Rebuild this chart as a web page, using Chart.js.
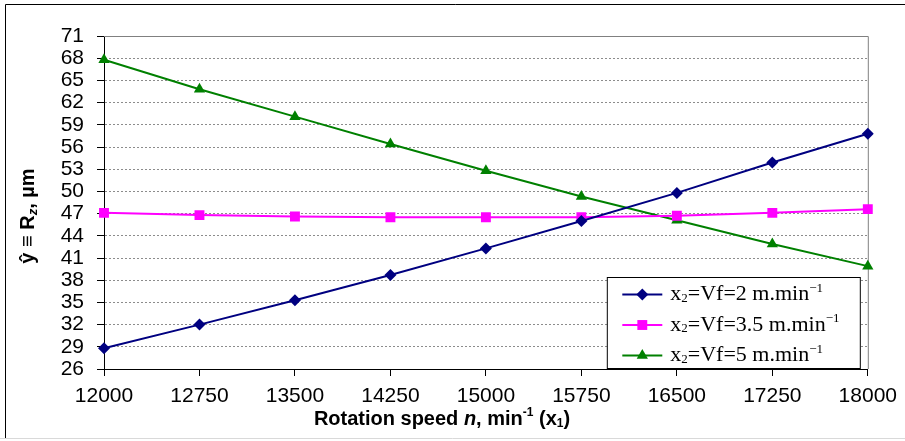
<!DOCTYPE html>
<html>
<head>
<meta charset="utf-8">
<script src="https://cdn.jsdelivr.net/npm/chart.js@4/dist/chart.umd.min.js"></script>
<style>
html,body{margin:0;padding:0;background:#fff;}
</style>
</head>
<body>
<canvas id="myChart" width="905" height="441"></canvas>
<script>
// rotation speed n, min-1 (x1)
const speeds = ['12000','12750','13500','14250','15000','15750','16500','17250','18000'];
// feed rates for the three series (x2 = Vf)
const feeds = ['2','3.5','5'];
// Rz values
const rzVf2   = [28.8, 32.0, 35.3, 38.7, 42.3, 46.0, 49.8, 53.9, 57.8];
const rzVf35  = [47.1, 46.8, 46.6, 46.5, 46.5, 46.5, 46.7, 47.1, 47.6];
const rzVf5   = [67.8, 63.8, 60.1, 56.4, 52.8, 49.3, 46.1, 42.9, 39.9];
const colors  = ['#000080','#FF00FF','#008000'];
const markers = ['rectRot','rect','triangle'];
const radii   = [6, 7, 6.5];

const sans = '"Liberation Sans", Arial, sans-serif';
const serif = '"Liberation Serif", "Times New Roman", serif';

function richText(ctx, parts, x, y) {
	// parts: [text, font, dy]
	let w = 0;
	parts.forEach(function(p){ ctx.font = p[1]; w += ctx.measureText(p[0]).width; });
	let cx = x - w / 2;
	ctx.textAlign = 'left';
	ctx.textBaseline = 'middle';
	parts.forEach(function(p){
		ctx.font = p[1];
		ctx.fillText(p[0], cx, y + (p[2] || 0));
		cx += ctx.measureText(p[0]).width;
	});
}

function marker(ctx, style, r, x, y) {
	ctx.beginPath();
	if (style == 'rectRot') {
		ctx.moveTo(x, y - r); ctx.lineTo(x + r, y); ctx.lineTo(x, y + r); ctx.lineTo(x - r, y);
	} else if (style == 'rect') {
		let s = r * Math.SQRT1_2;
		ctx.rect(x - s, y - s, 2 * s, 2 * s);
	} else {
		let a = 0;
		ctx.moveTo(x + Math.sin(a) * r, y - Math.cos(a) * r);
		a += 2 * Math.PI / 3;
		ctx.lineTo(x + Math.sin(a) * r, y - Math.cos(a) * r);
		a += 2 * Math.PI / 3;
		ctx.lineTo(x + Math.sin(a) * r, y - Math.cos(a) * r);
	}
	ctx.closePath();
	ctx.fill();
}

const framePlugin = {
	id: 'frame',
	beforeDraw: function(chart) {
		const ctx = chart.ctx;
		ctx.save();
		ctx.fillStyle = '#fff';
		ctx.fillRect(0, 0, chart.width, chart.height);
		ctx.strokeStyle = '#000';
		ctx.lineWidth = 1;
		ctx.beginPath();
		ctx.moveTo(5.5, 438);
		ctx.lineTo(5.5, 4.5);
		ctx.lineTo(chart.width, 4.5);
		ctx.stroke();
		ctx.strokeStyle = '#d9d9d9';
		ctx.beginPath();
		ctx.moveTo(0, 438.5);
		ctx.lineTo(chart.width, 438.5);
		ctx.stroke();
		ctx.restore();
	},
	beforeDatasetsDraw: function(chart) {
		const ctx = chart.ctx, a = chart.chartArea;
		ctx.save();
		ctx.strokeStyle = '#808080';
		ctx.lineWidth = 1;
		ctx.beginPath();
		ctx.moveTo(a.left, a.top + 0.5);
		ctx.lineTo(a.right + 0.5, a.top + 0.5);
		ctx.lineTo(a.right + 0.5, a.bottom);
		ctx.stroke();
		ctx.restore();
	},
	afterDatasetsDraw: function(chart) {
		const ctx = chart.ctx, a = chart.chartArea;
		ctx.save();
		ctx.fillStyle = '#000';
		// axis titles
		richText(ctx, [
			['Rotation speed ', 'bold 20px ' + sans],
			['n', 'italic bold 20px ' + sans],
			[', min', 'bold 20px ' + sans],
			['-1', 'bold 12px ' + sans, -6],
			[' (x', 'bold 20px ' + sans],
			['1', 'bold 12px ' + sans, 5],
			[')', 'bold 20px ' + sans]
		], 442, 419);
		ctx.save();
		ctx.translate(28, 216);
		ctx.rotate(-Math.PI / 2);
		richText(ctx, [
			['\u0177 \u2261 R', 'bold 20px ' + sans],
			['z', 'italic bold 13px ' + sans, 5],
			[', \u00b5m', 'bold 20px ' + sans]
		], 0, 0);
		ctx.restore();

		// legend box
		const bx = a.right - 260.5, by = a.bottom - 91.5, bw = 253, bh = 91;
		ctx.fillStyle = '#fff';
		ctx.fillRect(bx, by, bw, bh);
		ctx.strokeStyle = '#000';
		ctx.lineWidth = 1;
		ctx.strokeRect(bx, by, bw, bh);
		chart.data.datasets.forEach(function(ds, i) {
			const y = by + 17 + i * 30.5;
			ctx.strokeStyle = ds.borderColor;
			ctx.lineWidth = 2;
			ctx.beginPath();
			ctx.moveTo(bx + 15, y);
			ctx.lineTo(bx + 55, y);
			ctx.stroke();
			ctx.fillStyle = ds.borderColor;
			marker(ctx, ds.pointStyle, ds.pointRadius, bx + 35, y);
			ctx.fillStyle = '#000';
			const parts = [
				['x', '22px ' + serif],
				['2', '13px ' + serif, 4],
				['=Vf=' + feeds[i] + ' m.min', '22px ' + serif],
				['\u22121', '13px ' + serif, -6]
			];
			let w = 0;
			parts.forEach(function(p){ ctx.font = p[1]; w += ctx.measureText(p[0]).width; });
			richText(ctx, parts, bx + 63 + w / 2, y);
		});
		ctx.restore();
	}
};

const series = [rzVf2, rzVf35, rzVf5];

let myChart = document.getElementById('myChart').getContext('2d');
let chart = new Chart(myChart, {
	type: 'line',
	data: {
		labels: speeds,
		datasets: series.map(function(vals, i) {
			return {
				label: 'x2=Vf=' + feeds[i] + ' m.min-1',
				data: vals,
				borderColor: colors[i],
				backgroundColor: colors[i],
				pointBackgroundColor: colors[i],
				pointBorderColor: colors[i],
				pointBorderWidth: 0,
				pointStyle: markers[i],
				pointRadius: radii[i],
				borderWidth: 2,
				tension: 0,
				fill: false
			};
		})
	},
	options: {
		responsive: false,
		animation: false,
		devicePixelRatio: 1,
		layout: {
			padding: { left: 0, right: 37, top: 36, bottom: 0 }
		},
		plugins: {
			legend: { display: false },
			title: { display: false },
			tooltip: { enabled: false }
		},
		scales: {
			x: {
				offset: false,
				afterFit: function(s) { s.height = 72; },
				grid: {
					display: true,
					drawOnChartArea: false,
					drawTicks: true,
					tickLength: 7,
					tickColor: '#000'
				},
				border: { display: true, color: '#000', width: 1 },
				ticks: {
					color: '#000',
					padding: 8,
					maxRotation: 0,
					autoSkip: false,
					font: { family: sans, size: 21 }
				}
			},
			y: {
				min: 26,
				max: 71,
				afterFit: function(s) { s.width = 104; },
				grid: {
					color: '#8c8c8c',
					tickColor: '#000',
					tickLength: 7,
					drawTicks: true
				},
				border: { display: true, color: '#000', width: 1, dash: [2, 2] },
				ticks: {
					stepSize: 3,
					autoSkip: false,
					color: '#000',
					padding: 13,
					font: { family: sans, size: 21 }
				}
			}
		}
	},
	plugins: [framePlugin]
});
</script>
</body>
</html>
